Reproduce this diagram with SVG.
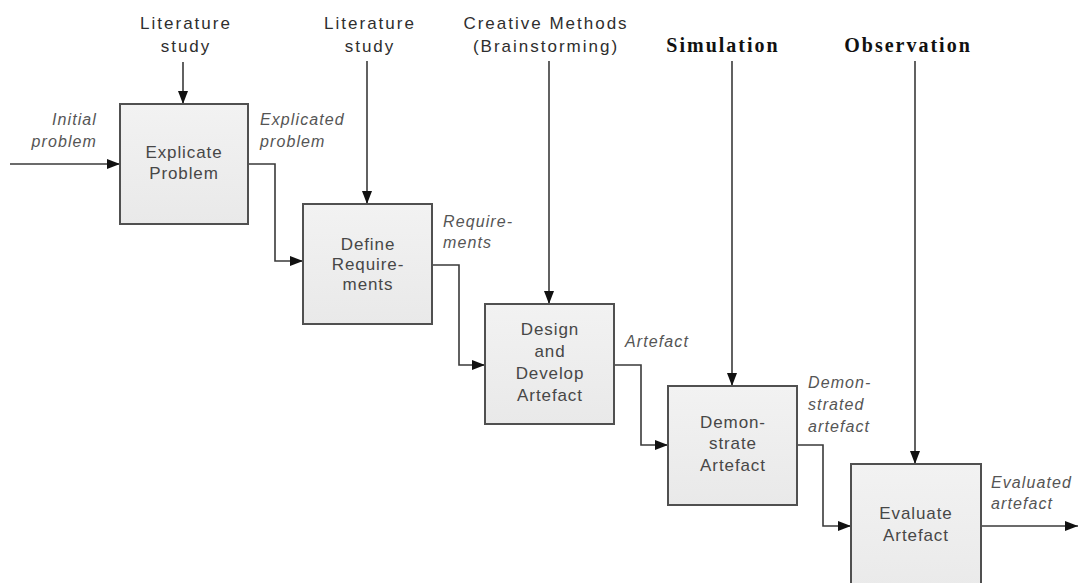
<svg xmlns="http://www.w3.org/2000/svg" width="1078" height="583" viewBox="0 0 1078 583">
<style>
.box{fill:url(#g);stroke:#505050;stroke-width:2}
.bt{font-family:"Liberation Sans",Arial,sans-serif;font-size:17px;fill:#474747;text-anchor:middle;letter-spacing:0.9px}
.lab{font-family:"Liberation Sans",Arial,sans-serif;font-size:16px;font-style:italic;fill:#555;letter-spacing:1.1px}
.top{font-family:"Liberation Sans",Arial,sans-serif;font-size:17px;fill:#2e2e2e;text-anchor:middle;letter-spacing:2px}
.topb{font-family:"Liberation Serif","Times New Roman",serif;font-size:20px;font-weight:bold;fill:#111;text-anchor:middle;letter-spacing:2px}
.c{fill:none;stroke:#3a3a3a;stroke-width:1.6;marker-end:url(#ah)}
</style>
<defs>
<linearGradient id="g" x1="0" y1="0" x2="0" y2="1">
<stop offset="0" stop-color="#f2f2f2"/>
<stop offset="1" stop-color="#e9e9e9"/>
</linearGradient>
<marker id="ah" markerUnits="userSpaceOnUse" markerWidth="13" markerHeight="10" viewBox="0 0 13 10" refX="13" refY="5" orient="auto">
<path d="M0,0 L13,5 L0,10 z" fill="#111"/>
</marker>
</defs>
<rect width="1078" height="583" fill="#fff"/>

<g id="connectors">
<path class="c" d="M10 164 H120"/>
<path class="c" d="M183 62 V104"/>
<path class="c" d="M248 164 H275 V261 H303"/>
<path class="c" d="M367 61 V204"/>
<path class="c" d="M432 265 H459 V365 H485"/>
<path class="c" d="M549 61 V304"/>
<path class="c" d="M614 365 H641 V445 H668"/>
<path class="c" d="M732 61 V386"/>
<path class="c" d="M797 445 H823 V526 H851"/>
<path class="c" d="M915 61 V464"/>
<path class="c" d="M981 526 H1078"/>
</g>

<g id="explicate-problem">
<rect class="box" x="120" y="104" width="128" height="120"/>
<text class="bt" x="184" y="158">Explicate</text>
<text class="bt" x="184" y="179">Problem</text>
</g>
<g id="define-requirements">
<rect class="box" x="303" y="204" width="129" height="120"/>
<text class="bt" x="368" y="250">Define</text>
<text class="bt" x="368" y="270">Require-</text>
<text class="bt" x="368" y="290">ments</text>
</g>
<g id="design-develop">
<rect class="box" x="485" y="304" width="129" height="120"/>
<text class="bt" x="550" y="335">Design</text>
<text class="bt" x="550" y="357">and</text>
<text class="bt" x="550" y="379">Develop</text>
<text class="bt" x="550" y="401">Artefact</text>
</g>
<g id="demonstrate">
<rect class="box" x="668" y="386" width="129" height="119"/>
<text class="bt" x="733" y="428">Demon-</text>
<text class="bt" x="733" y="449">strate</text>
<text class="bt" x="733" y="471">Artefact</text>
</g>
<g id="evaluate">
<rect class="box" x="851" y="464" width="130" height="140"/>
<text class="bt" x="916" y="519">Evaluate</text>
<text class="bt" x="916" y="541">Artefact</text>
</g>

<g id="labels">
<text class="lab" x="97" y="125" text-anchor="end">Initial</text>
<text class="lab" x="97" y="147" text-anchor="end">problem</text>
<text class="lab" x="260" y="125">Explicated</text>
<text class="lab" x="260" y="147">problem</text>
<text class="lab" x="443" y="227">Require-</text>
<text class="lab" x="443" y="248">ments</text>
<text class="lab" x="625" y="347">Artefact</text>
<text class="lab" x="808" y="388">Demon-</text>
<text class="lab" x="808" y="410">strated</text>
<text class="lab" x="808" y="432">artefact</text>
<text class="lab" x="991" y="488">Evaluated</text>
<text class="lab" x="991" y="509">artefact</text>
</g>

<g id="inputs">
<text class="top" x="186" y="29">Literature</text>
<text class="top" x="186" y="52">study</text>
<text class="top" x="370" y="29">Literature</text>
<text class="top" x="370" y="52">study</text>
<text class="top" x="546" y="29">Creative Methods</text>
<text class="top" x="546" y="52">(Brainstorming)</text>
<text class="topb" x="723" y="52">Simulation</text>
<text class="topb" x="908" y="52">Observation</text>
</g>
</svg>
